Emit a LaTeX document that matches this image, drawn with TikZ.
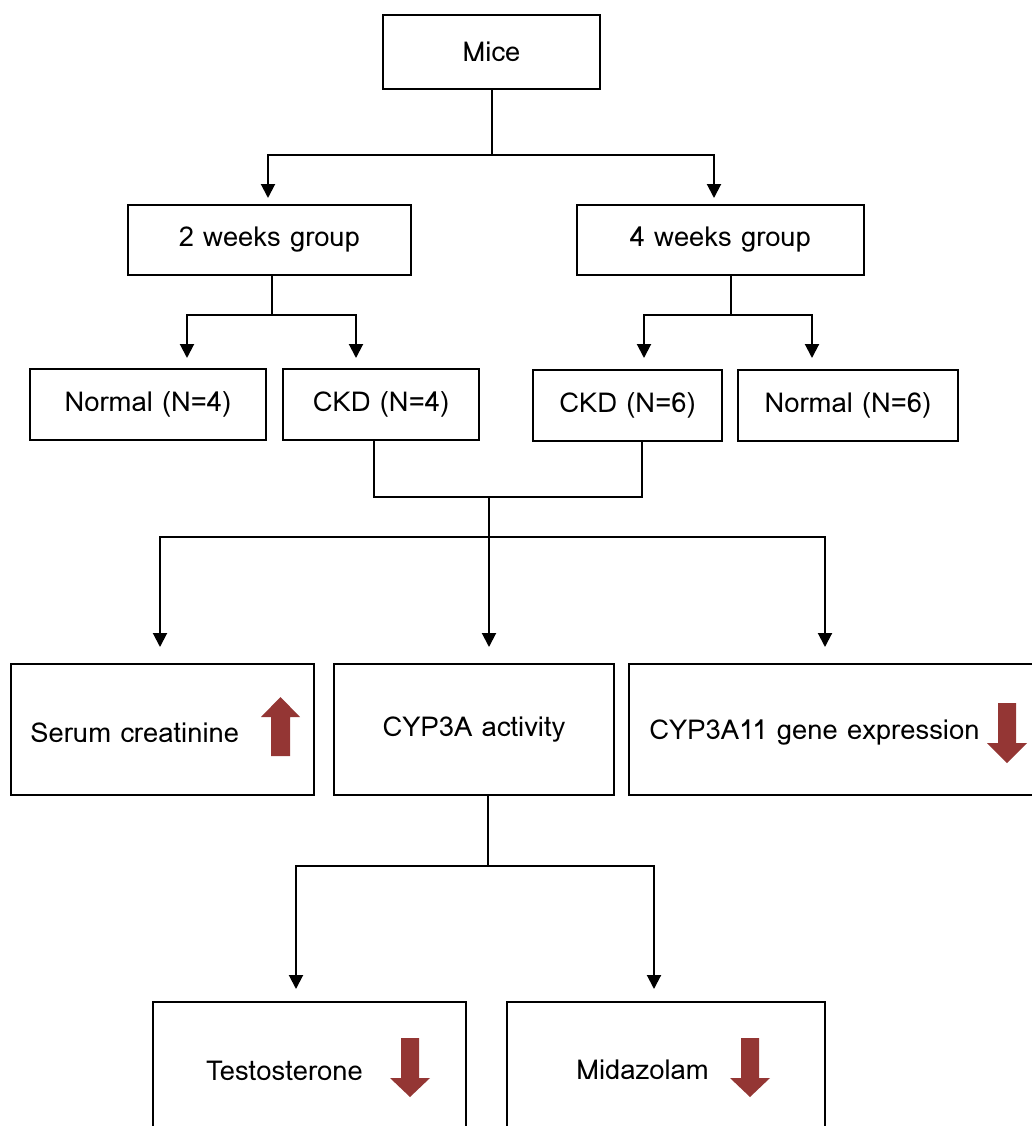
\documentclass[tikz,border=0pt]{standalone}
\usepackage{fontspec}
\setmainfont{Loma}
\usetikzlibrary{arrows.meta,calc}
\definecolor{redarrow}{RGB}{148,54,52}
\begin{document}
\begin{tikzpicture}[x=0.5pt,y=-0.5pt,
  box/.style={draw, line width=1pt, rectangle, inner sep=0pt, font=\fontsize{13.7}{16}\selectfont},
  lbl/.style={inner sep=0pt, font=\fontsize{13.7}{16}\selectfont},
  ln/.style={line width=1pt},
  arr/.style={line width=1pt, -{Triangle[width=7pt,length=7pt]}},
  redfill/.style={fill=redarrow}]
\useasboundingbox (0,0) rectangle (1032,1126);
\clip (0,0) rectangle (1032,1126);
% boxes
\node[box, minimum width=108.5pt, minimum height=37pt] (mice) at (491.5,52) {Mice};
\node[box, minimum width=141.5pt, minimum height=35pt] (w2) at (269.5,240) {2 weeks group};
\node[box, minimum width=143.5pt, minimum height=35pt] (w4) at (720.5,240) {4 weeks group};
\node[box, minimum width=118pt, minimum height=35.5pt] (n4) at (148,404.5) {Normal (N=4)};
\node[box, minimum width=98pt, minimum height=35.5pt] (c4) at (381,404.5) {CKD (N=4)};
\node[box, minimum width=94.5pt, minimum height=35.5pt] (c6) at (627.5,405.5) {CKD (N=6)};
\node[box, minimum width=110pt, minimum height=35.5pt] (n6) at (848,405.5) {Normal (N=6)};
\node[box, minimum width=151.5pt, minimum height=65.5pt] (serum) at (162.5,729.5) {};
\node[box, minimum width=140pt, minimum height=65.5pt] (act) at (474,729.5) {CYP3A activity};
\node[box, minimum width=208pt, minimum height=65.5pt] (gene) at (837,729.5) {};
\node[box, minimum width=156.5pt, minimum height=69pt] (testo) at (309.5,1071) {};
\node[box, minimum width=159pt, minimum height=69pt] (mida) at (666,1071) {};
% labels
\node[lbl, anchor=west] (serumt) at (30,733) {Serum creatinine};
\node[lbl, anchor=west] (genet) at (649,733) {CYP3A11 gene expression};
\node[lbl] (testot) at (284.5,1071) {Testosterone};
\node[lbl] (midat) at (642.5,1070) {Midazolam};
% red block arrows
\fill[redfill] (271,756) -- (271,717) -- (261,717) -- (280.5,697) -- (300,717) -- (290,717) -- (290,756) -- cycle;
\fill[redfill] (998,703) -- (1016,703) -- (1016,743) -- (1027,743) -- (1007,763) -- (987,743) -- (998,743) -- cycle;
\fill[redfill] (401,1038) -- (419,1038) -- (419,1078) -- (430,1078) -- (410,1097) -- (390,1078) -- (401,1078) -- cycle;
\fill[redfill] (741,1038) -- (759,1038) -- (759,1078) -- (770,1078) -- (750,1097) -- (730,1078) -- (741,1078) -- cycle;
% connectors
\coordinate (j1) at (491.5,155);
\draw[ln] (mice.south) -- (j1);
\draw[arr, shorten >=3pt] (j1) -| ([xshift=-0.75pt]w2.north);
\draw[arr, shorten >=3pt] (j1) -| ([xshift=-3.25pt]w4.north);
\coordinate (j2) at (272,315);
\draw[ln] ([xshift=1.25pt]w2.south) -- (j2);
\draw[arr, shorten >=5pt] (j2) -| ([xshift=19.5pt]n4.north);
\draw[arr, shorten >=5pt] (j2) -| ([xshift=-12.5pt]c4.north);
\coordinate (j3) at (731,315);
\draw[ln] ([xshift=5.25pt]w4.south) -- (j3);
\draw[arr, shorten >=5.5pt] (j3) -| ([xshift=8.25pt]c6.north);
\draw[arr, shorten >=5.5pt] (j3) -| ([xshift=-18pt]n6.north);
\coordinate (j4) at (489,497);
\draw[ln] ([xshift=-3.5pt]c4.south) |- (j4) -| ([xshift=7.25pt]c6.south);
\coordinate (j5) at (489,537);
\draw[ln] (j4) -- (j5);
\draw[arr, shorten >=8pt] (j5) -| ([xshift=-1.25pt]serum.north);
\draw[arr, shorten >=8pt] (j5) -- ([xshift=7.5pt]act.north);
\draw[arr, shorten >=8pt] (j5) -| ([xshift=-6pt]gene.north);
\coordinate (j6) at (488,866);
\draw[ln] ([xshift=7pt]act.south) -- (j6);
\draw[arr, shorten >=6pt] (j6) -| ([xshift=-6.75pt]testo.north);
\draw[arr, shorten >=6pt] (j6) -| ([xshift=-6pt]mida.north);
\end{tikzpicture}
\end{document}
